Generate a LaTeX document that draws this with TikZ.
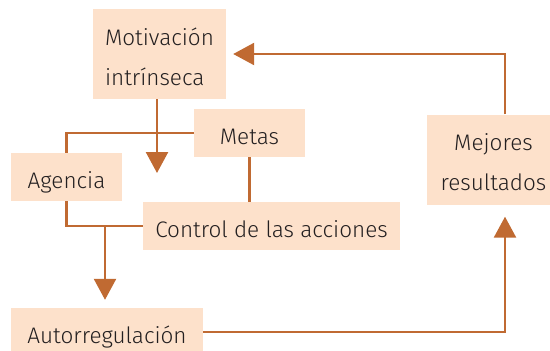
\documentclass[tikz,border=0pt]{standalone}
\usepackage{fontspec}
\setmainfont{Fira Sans Light}
\usepackage{xcolor}
\usetikzlibrary{arrows.meta}
\definecolor{peach}{RGB}{253,225,203}
\definecolor{copper}{RGB}{192,106,50}
\definecolor{ink}{RGB}{35,31,32}

\begin{document}
\begin{tikzpicture}[x=1pt,y=-1pt,
  box/.style={fill=peach, text=ink, inner sep=0pt, text height=22.6pt, text depth=0pt,
    font=\fontsize{22.5}{40}\selectfont},
  tallbox/.style={box, minimum height=90pt, text height=62pt, text depth=0pt},
  link/.style={draw=copper, line width=2.5pt},
  arrow/.style={link, -{Triangle[length=21pt,width=22pt]}}]
\useasboundingbox (0,0) rectangle (550,351);
\node[tallbox, minimum width=133pt, align=left] (mot) at (159.5,54) {Motivación\\intrínseca};
\node[box, minimum width=111pt, minimum height=48pt] (metas) at (249.5,133) {Metas};
\node[box, minimum width=111pt, minimum height=48pt] (agencia) at (66.5,177) {Agencia};
\node[box, minimum width=257pt, minimum height=48pt] (control) at (271.5,226) {Control de las acciones};
\node[box, minimum width=192pt, minimum height=48pt] (auto) at (107,332) {Autorregulación};
\node[tallbox, minimum width=133pt, align=center] (mej) at (493.5,159.5) {Mejores\\resultados};
\coordinate (motend) at (157,173);
\coordinate (split) at (105,0);
\coordinate (back) at (505,0);
% links
\draw[link] (agencia.north) |- (metas.west);
\draw[link] (metas.south) -- (metas.south |- control.north);
\draw[link] (agencia.south) |- (control.west);
% arrows
\draw[arrow] (motend |- mot.south) -- (motend);
\draw[arrow, shorten >=8pt] (split |- control.west) -- (split |- auto.north);
\draw[arrow, shorten >=12pt] (auto.east) -| (back |- mej.south);
\draw[arrow, shorten >=7pt] (back |- mej.north) |- (mot.east);
\end{tikzpicture}
\end{document}
